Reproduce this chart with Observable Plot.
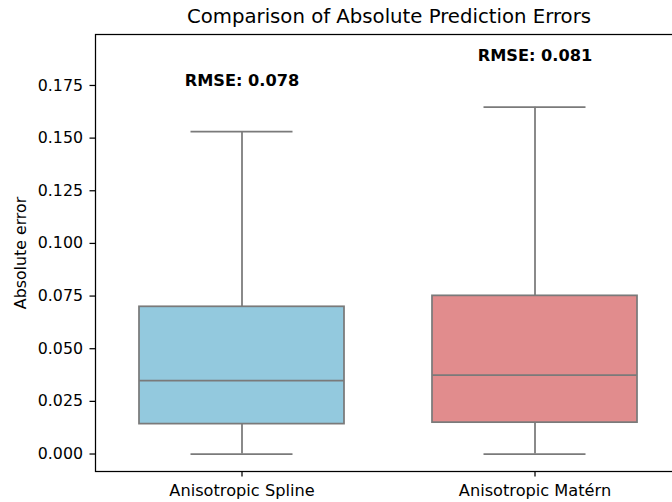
<!DOCTYPE html>
<html>
<head>
<meta charset="utf-8">
<script src="https://cdn.jsdelivr.net/npm/d3@7"></script>
<script src="https://cdn.jsdelivr.net/npm/@observablehq/plot@0.6"></script>
<style>
  html, body { margin: 0; padding: 0; background: #fff; overflow: hidden; width: 672px; height: 502px; }
  #wrap { width: 683px; font-family: "DejaVu Sans", sans-serif; }
  #title { box-sizing: border-box; height: 28px; padding-top: 6px; padding-left: 95px; width: 683px;
           text-align: center; font-size: 19.7px; line-height: 22px; color: #000; white-space: nowrap; }
  svg { display: block; }
</style>
</head>
<body>
<div id="wrap">
  <div id="title">Comparison of Absolute Prediction Errors</div>
  <div id="chart"></div>
</div>
<script>
// Data
const categories = ["Anisotropic Spline", "Anisotropic Matérn"];
const whiskerLow = [0.0, 0.0];
const q1 = [0.0142, 0.0149];
const median = [0.0348, 0.0375];
const q3 = [0.0699, 0.0751];
const whiskerHigh = [0.1531, 0.1647];
const rmse = [0.078, 0.081];
const fills = ["#93C9DE", "#E18C8D"];
const yTicks = [0, 0.025, 0.05, 0.075, 0.1, 0.125, 0.15, 0.175];

const rows = categories.map((c, i) => ({
  cat: c, low: whiskerLow[i], q1: q1[i], med: median[i], q3: q3[i], high: whiskerHigh[i],
  rmse: rmse[i], fill: fills[i]
}));

const edge = "#7a7a7a";
const W = 683, H = 474;
const chart = Plot.plot({
  width: W,
  height: H,
  marginLeft: 95,
  marginRight: 1,
  marginTop: 6,
  marginBottom: 31,
  style: { fontFamily: "DejaVu Sans, sans-serif", fontSize: "15.8px", color: "#000", background: "#fff" },
  x: { type: "band", domain: categories, paddingInner: 0.3, paddingOuter: 0.15 },
  y: { domain: [-0.0083, 0.1992] },
  marks: [
    Plot.ruleX(rows, { x: "cat", y1: "q3", y2: "high", stroke: edge, strokeWidth: 1.75 }),
    Plot.ruleX(rows, { x: "cat", y1: "low", y2: "q1", stroke: edge, strokeWidth: 1.75 }),
    Plot.tickY(rows, { x: "cat", y: "high", stroke: edge, strokeWidth: 1.75, insetLeft: 51.5, insetRight: 51.5 }),
    Plot.tickY(rows, { x: "cat", y: "low", stroke: edge, strokeWidth: 1.75, insetLeft: 51.5, insetRight: 51.5 }),
    Plot.barY(rows, { x: "cat", y1: "q1", y2: "q3", fill: d => d.fill, stroke: edge, strokeWidth: 1.75 }),
    Plot.tickY(rows, { x: "cat", y: "med", stroke: edge, strokeWidth: 1.75 }),
    Plot.text(rows, { x: "cat", y: d => d.high + 0.025, text: d => `RMSE: ${d.rmse.toFixed(3)}`,
      fontWeight: "bold", fontSize: 16.2, fill: "#000", lineAnchor: "middle", dy: 1.5 }),
    Plot.axisY({ ticks: yTicks, tickFormat: d3.format(".3f"), tickSize: 5.5, tickPadding: 7,
      label: null, strokeWidth: 1.25 }),
    Plot.axisX({ tickSize: 5.5, tickPadding: 7, label: null, strokeWidth: 1.25, fontSize: 16.2 }),
    Plot.text(["Absolute error"], { frameAnchor: "left", dx: -75, rotate: -90, textAnchor: "middle",
      lineAnchor: "middle", fontSize: 15.8, fill: "#000" }),
    Plot.frame({ stroke: "#000", strokeWidth: 1.25 })
  ]
});
document.getElementById("chart").appendChild(chart);
</script>
</body>
</html>
